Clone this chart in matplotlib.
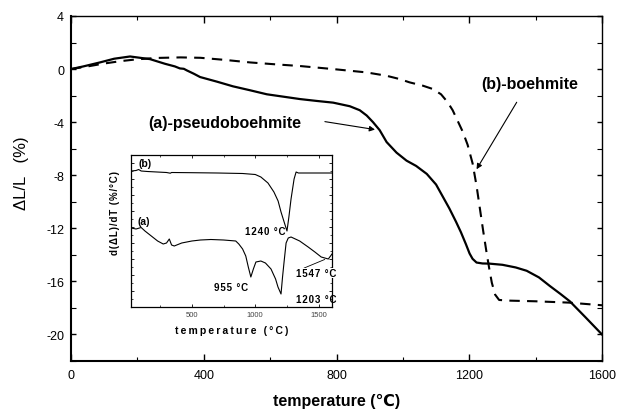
import matplotlib
matplotlib.use("Agg")
import matplotlib.pyplot as plt
from matplotlib.ticker import MultipleLocator, NullFormatter

plt.rcParams['font.family'] = ['Liberation Sans', 'DejaVu Sans']
plt.rcParams['axes.unicode_minus'] = False

# ---- main data: dL/L (%) vs temperature ----
temp_a = [0, 37, 87, 130, 178, 238, 283, 313, 328, 340, 349, 370, 389, 440, 488, 540, 590,
          640, 690, 740, 790, 840, 870, 891, 910, 930, 951, 981, 1011, 1040, 1072, 1100,
          1120, 1140, 1160, 1175, 1190, 1201, 1210, 1222, 1240, 1260, 1300, 1340, 1373,
          1410, 1443, 1475, 1503, 1550, 1600]
dl_a = [0, 0.2, 0.5, 0.78, 0.95, 0.75, 0.4, 0.2, 0.05, 0.02, -0.1, -0.35, -0.6, -0.95, -1.3, -1.6, -1.9,
        -2.08, -2.26, -2.4, -2.53, -2.8, -3.1, -3.5, -4.0, -4.6, -5.5, -6.3, -6.9, -7.3, -7.9, -8.7,
        -9.6, -10.5, -11.5, -12.3, -13.2, -13.9, -14.3, -14.58, -14.65, -14.66, -14.75, -14.95, -15.2,
        -15.7, -16.35, -16.95, -17.5, -18.7, -20.0]

temp_b = [0, 50, 100, 150, 200, 260, 330, 390, 460, 540, 620, 690, 790, 890, 950, 990, 1020,
          1060, 1090, 1115, 1135, 1150, 1165, 1180, 1195, 1210, 1222, 1232, 1242, 1252, 1260,
          1268, 1278, 1290, 1320, 1400, 1500, 1600]
dl_b = [0, 0.2, 0.42, 0.6, 0.74, 0.84, 0.88, 0.85, 0.7, 0.5, 0.35, 0.23, 0.0, -0.25, -0.5, -0.75, -1.0,
        -1.25, -1.5, -1.9, -2.5, -3.1, -3.9, -4.7, -5.7, -7.1, -8.8, -10.5, -12.2, -13.8, -15.0,
        -16.1, -17.0, -17.4, -17.45, -17.5, -17.6, -17.8]

# ---- inset data: d(dL)/dT (arbitrary units) ----
itemp_b = [20, 60, 80, 100, 150, 300, 330, 340, 500, 700, 900, 1000, 1044, 1100, 1147, 1180,
           1203, 1230, 1250, 1265, 1282, 1306, 1322, 1340, 1450, 1605]
ider_b = [136, 136.5, 137.5, 136, 135.5, 134.5, 133.8, 134.5, 134.3, 134, 133.5, 132.5, 130, 124, 115, 106,
          95, 84, 76, 90, 108, 128, 135, 134, 134, 134]

itemp_a = [20, 60, 100, 130, 180, 230, 274, 300, 322, 340, 361, 420, 500, 568, 650, 750, 846, 870,
           900, 925, 945, 965, 985, 1005, 1044, 1080, 1124, 1160, 1179, 1203, 1215, 1227, 1243,
           1260, 1282, 1350, 1417, 1470, 1520, 1576, 1605]
ider_a = [79, 78, 79.5, 76, 71, 66, 63, 64, 68, 62, 61, 64, 66, 67, 67.5, 67, 66, 63,
          58, 51, 40, 30, 38, 45, 46, 44, 38, 28, 20, 13, 30, 45, 64,
          69, 70, 66, 60, 55, 50, 48, 53]

# ---- figure ----
fig = plt.figure(figsize=(6.18, 4.14), dpi=100)
ax = fig.add_axes([71/618, 1-362/414, (602-71)/618, (362-17)/414])

ax.plot(temp_a, dl_a, color='black', lw=1.6)
ax.plot(temp_b, dl_b, color='black', lw=1.5, ls=(0, (5, 3.5)))

ax.set_xlim(0, 1600)
ax.set_ylim(-22, 4)
ax.xaxis.set_major_locator(MultipleLocator(400))
ax.xaxis.set_minor_locator(MultipleLocator(200))
ax.yaxis.set_minor_locator(MultipleLocator(2))
ax.set_yticks([4, 0, -4, -8, -12, -16, -20])
ax.tick_params(which='both', direction='in', top=True, right=True, labelsize=9)
ax.tick_params(which='major', length=5, width=1)
ax.tick_params(which='minor', length=3, width=0.8)
ax.tick_params(axis='y', which='both', length=3.5, pad=5)
ax.tick_params(axis='x', which='both', pad=6)
for s in ax.spines.values():
    s.set_linewidth(1.0)
ax.spines['bottom'].set_linewidth(1.5)
ax.spines['left'].set_linewidth(1.5)

ax.set_xlabel('temperature (℃)', fontsize=11.5, fontweight='bold', labelpad=8)
fig.text(22/618, 1-173/414, 'ΔL/L   (%)', rotation=90, fontsize=12,
         ha='center', va='center')

# annotations
arrow_kw = dict(arrowstyle='-|>', color='black', lw=0.8, mutation_scale=8, shrinkA=0, shrinkB=0)
ax.text(463, -4.0, '(a)-pseudoboehmite', fontsize=11.5, fontweight='bold',
        ha='center', va='center')
ax.annotate('', xy=(916, -4.56), xytext=(765, -3.96), arrowprops=arrow_kw)
ax.text(1383, -1.05, '(b)-boehmite', fontsize=11.5, fontweight='bold',
        ha='center', va='center')
ax.annotate('', xy=(1222, -7.55), xytext=(1343, -2.5), arrowprops=arrow_kw)

# ---- inset ----
ins = fig.add_axes([131/618, 1-308/414, (332-131)/618, (308-156)/414])
ins.plot(itemp_b, ider_b, color='black', lw=0.8)
ins.plot(itemp_a, ider_a, color='black', lw=0.8)
ins.set_xlim(20, 1605)
ins.set_ylim(0, 152)
ins.xaxis.set_major_locator(MultipleLocator(500))
ins.xaxis.set_minor_locator(MultipleLocator(250))
ins.yaxis.set_major_locator(MultipleLocator(16))
ins.yaxis.set_minor_locator(MultipleLocator(8))
ins.yaxis.set_major_formatter(NullFormatter())
ins.tick_params(which='both', direction='in', top=True, right=True,
                labelsize=5.5, labelcolor='#444444', pad=3)
ins.tick_params(which='major', length=2.5, width=0.6)
ins.tick_params(which='minor', length=1.5, width=0.5)
for s in ins.spines.values():
    s.set_linewidth(0.9)

def spaced(t, sp='\u200a'):
    return sp.join(t)

ins.set_xlabel(spaced('temperature (°C)', '\u2009'), fontsize=7.5, fontweight='bold', labelpad=5)
ins.set_ylabel(spaced('d(ΔL)/dT (%/°C)'), fontsize=7, fontweight='bold')
ins.yaxis.set_label_coords(-0.055, 0.625)

ins.text(80, 144, '(b)', fontsize=7.5, fontweight='bold', ha='left', va='center')
ins.text(70, 86, '(a)', fontsize=7.5, fontweight='bold', ha='left', va='center')
ins.text(1080, 76, spaced('1240 °C'), fontsize=7, fontweight='bold', ha='center', va='center')
ins.text(810, 20, spaced('955 °C'), fontsize=7, fontweight='bold', ha='center', va='center')
ins.text(1480, 8, spaced('1203 °C'), fontsize=7, fontweight='bold', ha='center', va='center')
ins.text(1480, 34, spaced('1547 °C'), fontsize=7, fontweight='bold', ha='center', va='center',
         bbox=dict(facecolor='white', edgecolor='none', pad=0.3))
ins.plot([1386, 1547], [39, 47.5], color='black', lw=0.6)

fig.savefig('out.png', dpi=100)
